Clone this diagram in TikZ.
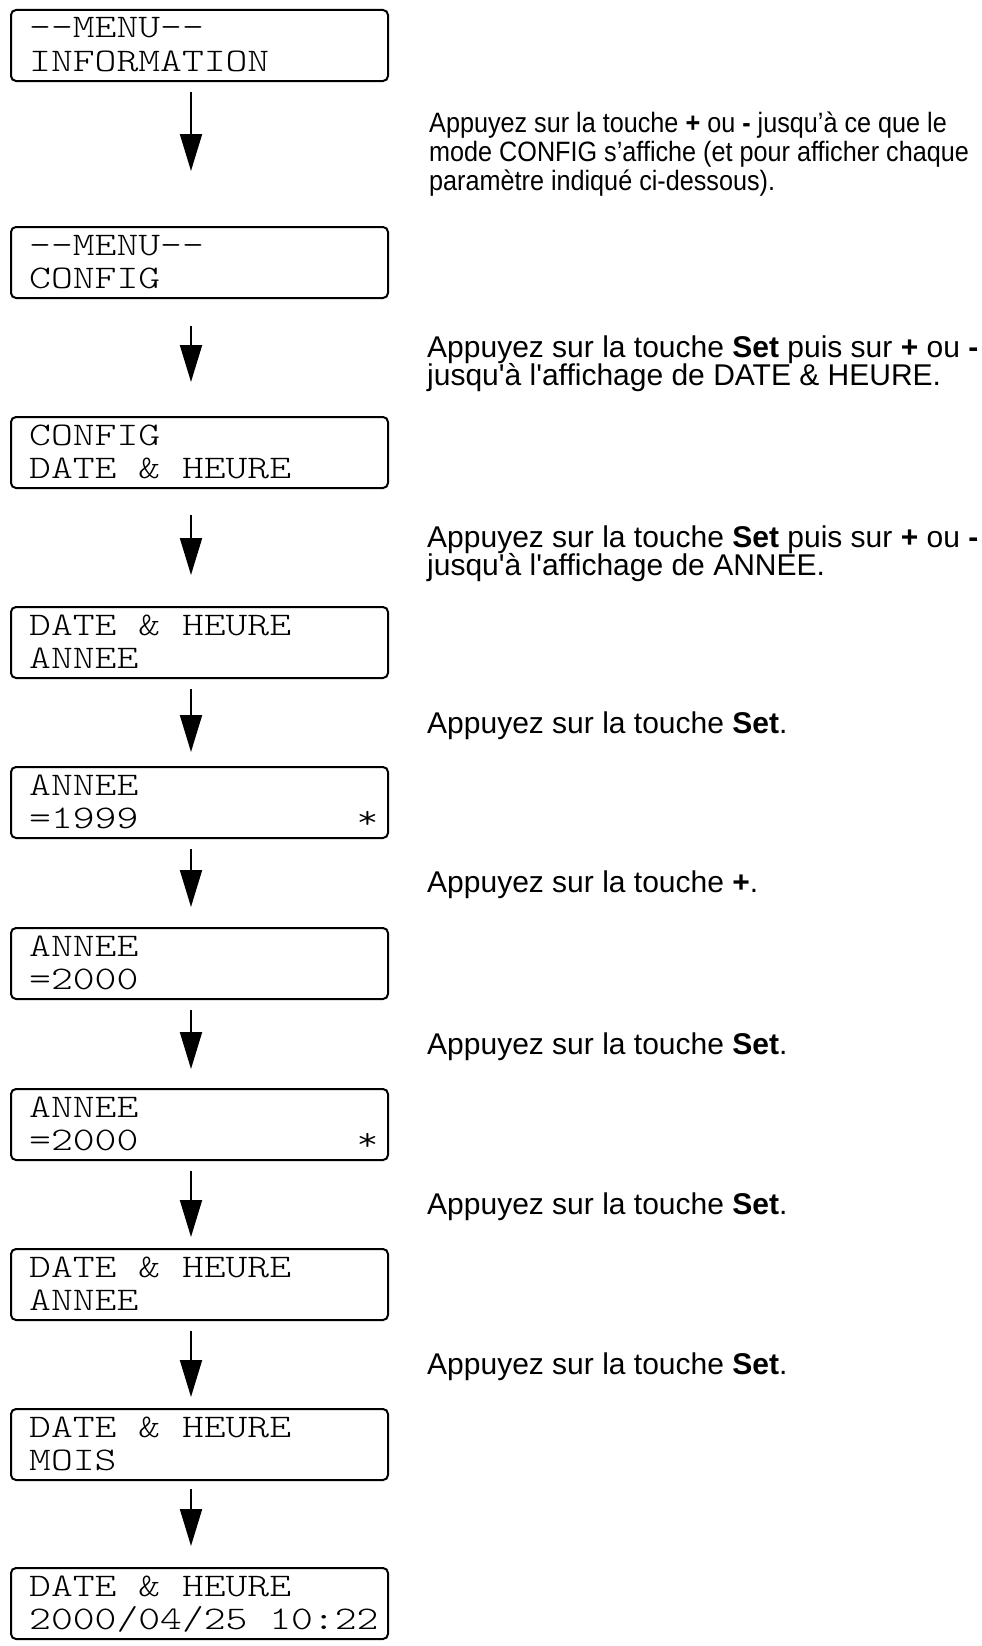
\documentclass[tikz,border=0pt]{standalone}
\usepackage{fontspec}
\usepackage{graphicx}
\usetikzlibrary{arrows.meta}
\newfontfamily\arialfont{Liberation Sans}[Ligatures=TeXOff]
\newfontfamily\narrowfont{Liberation Sans}[Ligatures=TeXOff,FakeStretch=0.9]
\newfontfamily\lcdfont{lmmonolt10-regular.otf}
\newcommand\lcdtxt[1]{\scalebox{1.26}[1]{\fontsize{33}{33}\selectfont\lcdfont #1}}
\tikzset{
  lcdbox/.style={draw, line width=2pt, rounded corners=5pt, minimum width=377pt,
    minimum height=71pt, inner sep=0pt, anchor=north west},
  lcdline/.style={anchor=base west, inner sep=0pt},
  note/.style={anchor=base west, inner sep=0pt, font=\fontsize{30}{28}\selectfont\arialfont},
  notenarrow/.style={anchor=base west, inner sep=0pt, font=\fontsize{28}{29}\selectfont\narrowfont},
  flow/.style={line width=2pt, -{Triangle[width=22pt,length=37pt]}},
}
\begin{document}
\begin{tikzpicture}[x=1pt,y=-1pt]
\useasboundingbox (0,0) rectangle (982,1646);
% boxes
\node[lcdbox] (b1) at (10,9) {};
\node[lcdbox] (b2) at (10,226) {};
\node[lcdbox] (b3) at (10,416) {};
\node[lcdbox] (b4) at (10,606) {};
\node[lcdbox] (b5) at (10,766) {};
\node[lcdbox] (b6) at (10,927) {};
\node[lcdbox] (b7) at (10,1088) {};
\node[lcdbox] (b8) at (10,1248) {};
\node[lcdbox] (b9) at (10,1408) {};
\node[lcdbox] (b10) at (10,1567) {};
% box texts
\node[lcdline] (b1a) at (29,38) {\lcdtxt{--MENU--}};
\node[lcdline] (b1b) at (29,71.5) {\lcdtxt{INFORMATION}};
\node[lcdline] (b2a) at (29,255) {\lcdtxt{--MENU--}};
\node[lcdline] (b2b) at (29,288.5) {\lcdtxt{CONFIG}};
\node[lcdline] (b3a) at (29,445) {\lcdtxt{CONFIG}};
\node[lcdline] (b3b) at (29,478.5) {\lcdtxt{DATE \& HEURE}};
\node[lcdline] (b4a) at (29,635) {\lcdtxt{DATE \& HEURE}};
\node[lcdline] (b4b) at (29,668.5) {\lcdtxt{ANNEE}};
\node[lcdline] (b5a) at (29,795) {\lcdtxt{ANNEE}};
\node[lcdline] (b5b) at (29,828.5) {\lcdtxt{=1999\phantom{0000000000}*}};
\node[lcdline] (b6a) at (29,956) {\lcdtxt{ANNEE}};
\node[lcdline] (b6b) at (29,989.5) {\lcdtxt{=2000}};
\node[lcdline] (b7a) at (29,1117) {\lcdtxt{ANNEE}};
\node[lcdline] (b7b) at (29,1150.5) {\lcdtxt{=2000\phantom{0000000000}*}};
\node[lcdline] (b8a) at (29,1277) {\lcdtxt{DATE \& HEURE}};
\node[lcdline] (b8b) at (29,1310.5) {\lcdtxt{ANNEE}};
\node[lcdline] (b9a) at (29,1437) {\lcdtxt{DATE \& HEURE}};
\node[lcdline] (b9b) at (29,1470.5) {\lcdtxt{MOIS}};
\node[lcdline] (b10a) at (29,1596) {\lcdtxt{DATE \& HEURE}};
\node[lcdline] (b10b) at (29,1629.5) {\lcdtxt{2000/04/25 10:22}};
% arrows
\coordinate (a1s) at (191,92);   \coordinate (a1e) at (191,171);
\coordinate (a2s) at (191,326);  \coordinate (a2e) at (191,382);
\coordinate (a3s) at (191,515);  \coordinate (a3e) at (191,575);
\coordinate (a4s) at (191,689);  \coordinate (a4e) at (191,752);
\coordinate (a5s) at (191,849);  \coordinate (a5e) at (191,907);
\coordinate (a6s) at (191,1010); \coordinate (a6e) at (191,1069);
\coordinate (a7s) at (191,1171); \coordinate (a7e) at (191,1237);
\coordinate (a8s) at (191,1331); \coordinate (a8e) at (191,1397);
\coordinate (a9s) at (191,1489); \coordinate (a9e) at (191,1546);
\foreach \i in {1,...,9} { \draw[flow] (a\i s) -- (a\i e); }
% notes
\node[notenarrow] (n1a) at (429,132) {Appuyez sur la touche \textbf{+} ou \textbf{-} jusqu’à ce que le};
\node[notenarrow] (n1b) at (429,161) {mode CONFIG s’affiche (et pour afficher chaque};
\node[notenarrow] (n1c) at (429,190) {paramètre indiqué ci-dessous).};
\node[note] (n2a) at (427,357) {Appuyez sur la touche \textbf{Set} puis sur \textbf{+} ou \textbf{-}};
\node[note] (n2b) at (427,385) {jusqu'à l'affichage de DATE \& HEURE.};
\node[note] (n3a) at (427,547) {Appuyez sur la touche \textbf{Set} puis sur \textbf{+} ou \textbf{-}};
\node[note] (n3b) at (427,575) {jusqu'à l'affichage de ANNEE.};
\node[note] (n4) at (427,733) {Appuyez sur la touche \textbf{Set}.};
\node[note] (n5) at (427,892) {Appuyez sur la touche \textbf{+}.};
\node[note] (n6) at (427,1054) {Appuyez sur la touche \textbf{Set}.};
\node[note] (n7) at (427,1214) {Appuyez sur la touche \textbf{Set}.};
\node[note] (n8) at (427,1374) {Appuyez sur la touche \textbf{Set}.};
\end{tikzpicture}
\end{document}
